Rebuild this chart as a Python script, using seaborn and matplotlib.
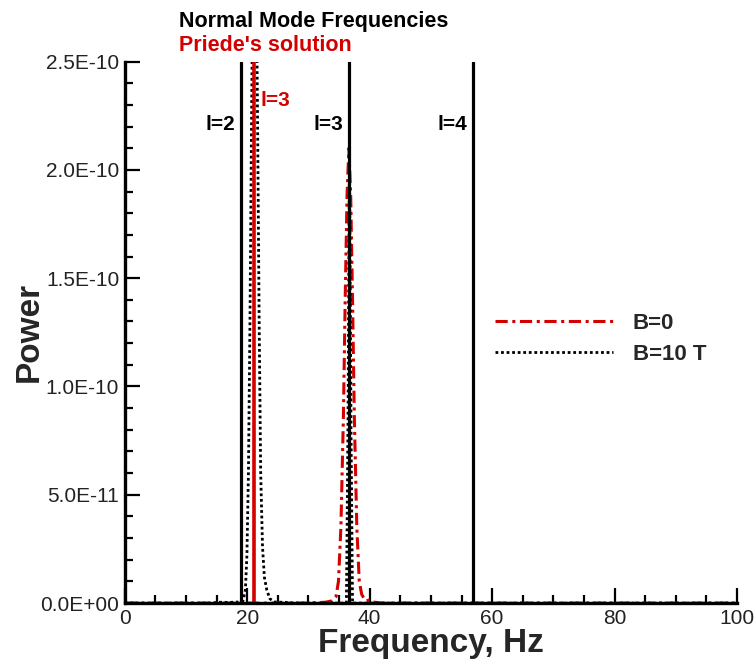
"""Power spectra for B=0 and B=10 T with normal mode frequency markers."""

import matplotlib
matplotlib.use("Agg")
import matplotlib.pyplot as plt
from matplotlib.ticker import FixedLocator, FuncFormatter
import seaborn as sns

sns.set_theme(style="white")
plt.rcParams["font.family"] = ["Liberation Sans", "DejaVu Sans"]

# ── Data (power in units of 1e-10) ───────────────────────────────────
b0_freq = [0, 30, 32.8, 33.8, 34.5, 34.9, 35.3, 35.7, 36.0, 36.3, 36.6, 36.9,
           37.2, 37.5, 37.9, 38.3, 38.7, 39.1, 39.5, 40.0, 40.5, 42, 100]
b0_power = [0, 0, 0.004, 0.01, 0.03, 0.1, 0.35, 0.85, 1.4, 1.88, 2.1, 1.88,
            1.4, 0.85, 0.35, 0.1, 0.04, 0.02, 0.01, 0.015, 0.005, 0, 0]

b10_freq = [0, 14, 15.5, 17.0, 18.5, 19.3, 19.7, 19.95, 20.2, 20.45, 20.7,
            20.95, 21.2, 21.45, 21.7, 21.95, 22.2, 22.5, 22.8, 23.2, 23.7,
            24.5, 26.5, 28, 36.2, 36.45, 36.7, 36.95, 37.2, 40, 100]
b10_power = [0, 0, 0.004, 0.003, 0.005, 0.01, 0.06, 0.22, 0.6, 1.3, 2.2,
             3.0, 3.3, 3.0, 2.2, 1.3, 0.6, 0.26, 0.12, 0.06, 0.02,
             0.005, 0.003, 0, 0, 0.8, 2.1, 0.8, 0, 0, 0]

normal_mode_freq = [18.95, 36.6, 56.9]
normal_mode_label = ["l=2", "l=3", "l=4"]
priede_freq = [21.1]
priede_label = ["l=3"]

x_major = [0, 20, 40, 60, 80, 100]
x_minor = list(range(0, 101, 5))
y_major = [0, 5e-11, 1e-10, 1.5e-10, 2e-10, 2.5e-10]
y_minor = [i * 1e-11 for i in range(26)]

POWER_SCALE = 1e-10
RED = "#d40000"

fig, ax = plt.subplots(figsize=(7.56, 6.62), dpi=100)
fig.subplots_adjust(left=0.165, right=0.975, bottom=0.089, top=0.907)

# spectra
sns.lineplot(x=b0_freq, y=[p * POWER_SCALE for p in b0_power], ax=ax,
             color=RED, linewidth=2.2, label="B=0", sort=False)
ax.lines[-1].set_dashes((4, 1.5, 1, 1.5))
sns.lineplot(x=b10_freq, y=[p * POWER_SCALE for p in b10_power], ax=ax,
             color="black", linewidth=2.0, label="B=10 T", sort=False)
ax.lines[-1].set_dashes((1, 1))

# normal mode markers
for f, lab in zip(normal_mode_freq, normal_mode_label):
    ax.axvline(f, color="black", linewidth=2.3)
    ax.text(f - 0.9, 2.21e-10, lab, ha="right", va="center",
            fontsize=15, fontweight="bold", color="black")
for f, lab in zip(priede_freq, priede_label):
    ax.axvline(f, color=RED, linewidth=2.6)
    ax.text(f + 1.1, 2.32e-10, lab, ha="left", va="center",
            fontsize=15, fontweight="bold", color=RED)

fig.text(0.237, 0.967, "Normal Mode Frequencies", ha="left", va="center",
         fontsize=15.5, fontweight="bold", color="black")
fig.text(0.237, 0.931, "Priede's solution", ha="left", va="center",
         fontsize=15.5, fontweight="bold", color=RED)

# axes styling
ax.set_xlim(0, 100)
ax.set_ylim(0, 2.5e-10)
ax.xaxis.set_major_locator(FixedLocator(x_major))
ax.xaxis.set_minor_locator(FixedLocator(x_minor))
ax.yaxis.set_major_locator(FixedLocator(y_major))
ax.yaxis.set_minor_locator(FixedLocator(y_minor))
ax.yaxis.set_major_formatter(FuncFormatter(lambda v, _: f"{v:.1E}"))
ax.tick_params(which="both", direction="in", width=1.6, color="black",
               labelsize=15, labelcolor="#222222", pad=4)
ax.tick_params(which="major", length=11)
ax.tick_params(which="minor", length=6)
ax.tick_params(axis="both", which="both", bottom=True, left=True)
for side in ["top", "right"]:
    ax.spines[side].set_visible(False)
for side in ["left", "bottom"]:
    ax.spines[side].set_linewidth(2.4)
    ax.spines[side].set_color("black")

ax.set_xlabel("Frequency, Hz", fontsize=24, fontweight="bold", labelpad=0)
ax.set_ylabel("Power", fontsize=24, fontweight="bold")
ax.yaxis.set_label_coords(-0.13, 0.5)

leg = ax.legend(loc="center left", bbox_to_anchor=(0.59, 0.488), frameon=False,
                fontsize=16, handlelength=5.3, handletextpad=0.9,
                labelspacing=0.45, borderaxespad=0)
for t in leg.get_texts():
    t.set_fontweight("bold")

fig.savefig("out.png", dpi=100)
